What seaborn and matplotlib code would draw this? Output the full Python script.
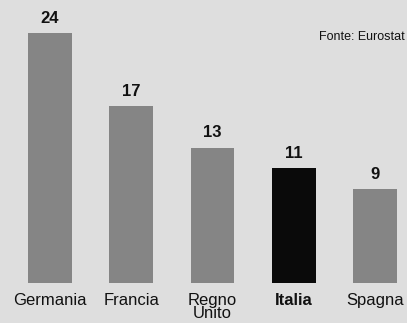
import matplotlib
matplotlib.use("Agg")
import matplotlib.pyplot as plt
import seaborn as sns
import pandas as pd

countries = ["Germania", "Francia", "Regno\nUnito", "Italia", "Spagna"]
values = [24, 17, 13, 11, 9]
colors = ["#858585", "#858585", "#858585", "#0a0a0a", "#858585"]

df = pd.DataFrame({"country": countries, "value": values})

sns.set_style("white")
plt.rcParams["font.family"] = ["Liberation Sans", "DejaVu Sans"]

fig = plt.figure(figsize=(4.07, 3.23), dpi=100)
bg = "#dedede"
fig.patch.set_facecolor(bg)
ax = fig.add_axes([0, 40 / 323, 1, 283 / 323])
ax.set_facecolor(bg)

sns.barplot(data=df, x="country", y="value", hue="country", palette=colors,
            legend=False, width=0.54, saturation=1, linewidth=0, ax=ax)

ax.set_xlim(-50 / 81.25, (407 - 50) / 81.25)
ax.set_ylim(0, 24 * 283 / 250)
ax.set_xlabel("")
ax.set_ylabel("")
ax.set_yticks([])
for s in ax.spines.values():
    s.set_visible(False)

for i, v in enumerate(values):
    ax.text(i, v + 0.7, str(v), ha="center", va="bottom",
            fontsize=12, fontweight="bold", color="#111111")

ax.tick_params(axis="x", length=0, pad=7, labelsize=12, colors="#111111")
for lbl in ax.get_xticklabels():
    lbl.set_linespacing(0.85)
    if lbl.get_text() == "Italia":
        lbl.set_fontweight("bold")

fig.text(0.995, 0.885, "Fonte: Eurostat", ha="right", va="center",
         fontsize=9, color="#111111")

fig.savefig("out.png", dpi=100, facecolor=bg)
